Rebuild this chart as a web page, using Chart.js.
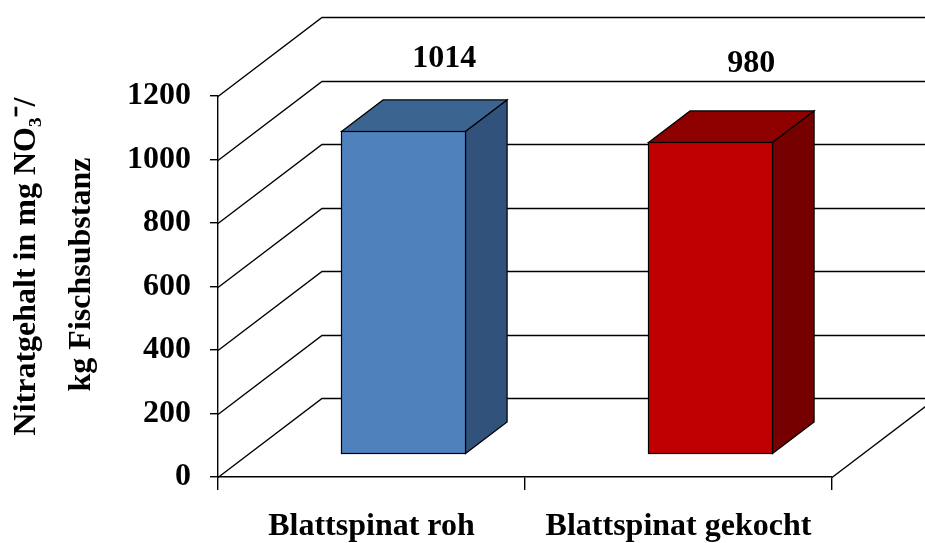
<!DOCTYPE html>
<html>
<head>
<meta charset="utf-8">
<script src="https://cdn.jsdelivr.net/npm/chart.js@4.4.1/dist/chart.umd.min.js"></script>
<style>
  html, body { margin: 0; padding: 0; background: #fff; }
  canvas { display: block; }
</style>
</head>
<body>
<canvas id="nitratChart" width="925" height="543"></canvas>
<script>
// Chart data
const categories = ['Blattspinat roh', 'Blattspinat gekocht'];
const nitratValues = [1014, 980];
const yTicks = [0, 200, 400, 600, 800, 1000, 1200];

const frontColors = ['#4F81BD', '#C00000'];
const topColors = ['#3C6491', '#8E0000'];
const sideColors = ['#31527A', '#760000'];

// 3D depth of the plot box (back wall offset) and where the bars sit in it
const DEPTH_X = 104;
const DEPTH_Y = -79;
const BAR_FRONT = 0.30;
const BAR_BACK = 0.70;

const FONT_FAMILY = '"Liberation Serif", "Times New Roman", serif';

// Draw the left wall, back wall grid and floor edge behind the bars
const wallsPlugin = {
  id: 'walls3d',
  beforeDatasetsDraw(chart) {
    const { ctx, chartArea } = chart;
    const yScale = chart.scales.y;
    ctx.save();
    ctx.strokeStyle = '#000';
    ctx.lineWidth = 1.4;
    yTicks.forEach((v) => {
      const py = Math.round(yScale.getPixelForValue(v)) + 0.5;
      ctx.beginPath();
      ctx.moveTo(chartArea.left, py);
      ctx.lineTo(chartArea.left + DEPTH_X, py + DEPTH_Y);
      ctx.lineTo(chart.width, py + DEPTH_Y);
      ctx.stroke();
    });
    // right edge of the floor
    const by = Math.round(chartArea.bottom) + 0.5;
    ctx.beginPath();
    ctx.moveTo(chartArea.right, by);
    ctx.lineTo(chartArea.right + DEPTH_X, by + DEPTH_Y);
    ctx.stroke();
    ctx.restore();
  },
  afterDatasetsDraw(chart) {
    const { ctx, chartArea } = chart;
    const meta = chart.getDatasetMeta(0);
    const sx = (BAR_BACK - BAR_FRONT) * DEPTH_X;
    const sy = (BAR_BACK - BAR_FRONT) * DEPTH_Y;
    ctx.save();
    ctx.strokeStyle = '#000';
    ctx.lineWidth = 1.2;
    ctx.lineJoin = 'miter';
    meta.data.forEach((bar, i) => {
      const { x, y, base, width } = bar.getProps(['x', 'y', 'base', 'width'], true);
      const L = Math.round(x - width / 2 + BAR_FRONT * DEPTH_X) + 0.5;
      const R = Math.round(x + width / 2 + BAR_FRONT * DEPTH_X) + 0.5;
      const T = Math.round(y + BAR_FRONT * DEPTH_Y) + 0.5;
      const B = Math.round(base + BAR_FRONT * DEPTH_Y) + 0.5;

      // top face
      ctx.beginPath();
      ctx.moveTo(L, T);
      ctx.lineTo(L + sx, T + sy);
      ctx.lineTo(R + sx, T + sy);
      ctx.lineTo(R, T);
      ctx.closePath();
      ctx.fillStyle = topColors[i];
      ctx.fill();
      ctx.stroke();

      // side face
      ctx.beginPath();
      ctx.moveTo(R, T);
      ctx.lineTo(R + sx, T + sy);
      ctx.lineTo(R + sx, B + sy);
      ctx.lineTo(R, B);
      ctx.closePath();
      ctx.fillStyle = sideColors[i];
      ctx.fill();
      ctx.stroke();

      // front face
      ctx.fillStyle = frontColors[i];
      ctx.fillRect(L, T, R - L, B - T);
      ctx.strokeRect(L, T, R - L, B - T);

      // value label, centred between the top of the back wall and the bar top
      const wallTop = chartArea.top + DEPTH_Y;
      const labelX = x + BAR_BACK * DEPTH_X;
      const labelY = (wallTop + T + sy) / 2;
      ctx.fillStyle = '#000';
      ctx.font = `bold 32px ${FONT_FAMILY}`;
      ctx.textAlign = 'center';
      ctx.textBaseline = 'middle';
      ctx.fillText(String(nitratValues[i]), labelX, labelY);
    });
    ctx.restore();
  }
};

new Chart(document.getElementById('nitratChart'), {
  type: 'bar',
  data: {
    labels: categories,
    datasets: [{
      label: 'Nitratgehalt',
      data: nitratValues,
      backgroundColor: 'rgba(0,0,0,0)',
      borderWidth: 0,
      categoryPercentage: 1,
      barPercentage: 0.404
    }]
  },
  options: {
    responsive: false,
    animation: false,
    layout: { padding: { top: 96, right: 93, bottom: 0, left: 0 } },
    plugins: {
      legend: { display: false },
      tooltip: { enabled: false }
    },
    scales: {
      x: {
        afterFit: (scale) => { scale.height = 66; },
        grid: { display: true, drawOnChartArea: false, offset: true, tickLength: 13, color: '#000', lineWidth: 1.4 },
        border: { display: true, color: '#000', width: 1.4 },
        ticks: {
          color: '#000',
          padding: 18,
          maxRotation: 0,
          autoSkip: false,
          font: { family: FONT_FAMILY, size: 32, weight: 'bold' }
        }
      },
      y: {
        min: 0,
        max: 1200,
        afterFit: (scale) => { scale.width = 218; },
        afterBuildTicks: (scale) => { scale.ticks = yTicks.map((v) => ({ value: v })); },
        grid: { display: true, drawOnChartArea: false, tickLength: 8, color: '#000', lineWidth: 1.4 },
        border: { display: true, color: '#000', width: 1.4 },
        ticks: {
          color: '#000',
          padding: 19,
          callback: (value) => String(value),
          font: { family: FONT_FAMILY, size: 32, weight: 'bold' }
        },
        title: {
          display: true,
          text: ['\u00a0\u00a0\u00a0\u00a0\u00a0Nitratgehalt in mg NO\u2083\u207B/', '\u00a0\u00a0\u00a0kg Fischsubstanz'],
          color: '#000',
          padding: { top: 0, bottom: 0 },
          font: { family: FONT_FAMILY, size: 32, weight: 'bold', lineHeight: 1.7 }
        }
      }
    }
  },
  plugins: [wallsPlugin]
});
</script>
</body>
</html>
